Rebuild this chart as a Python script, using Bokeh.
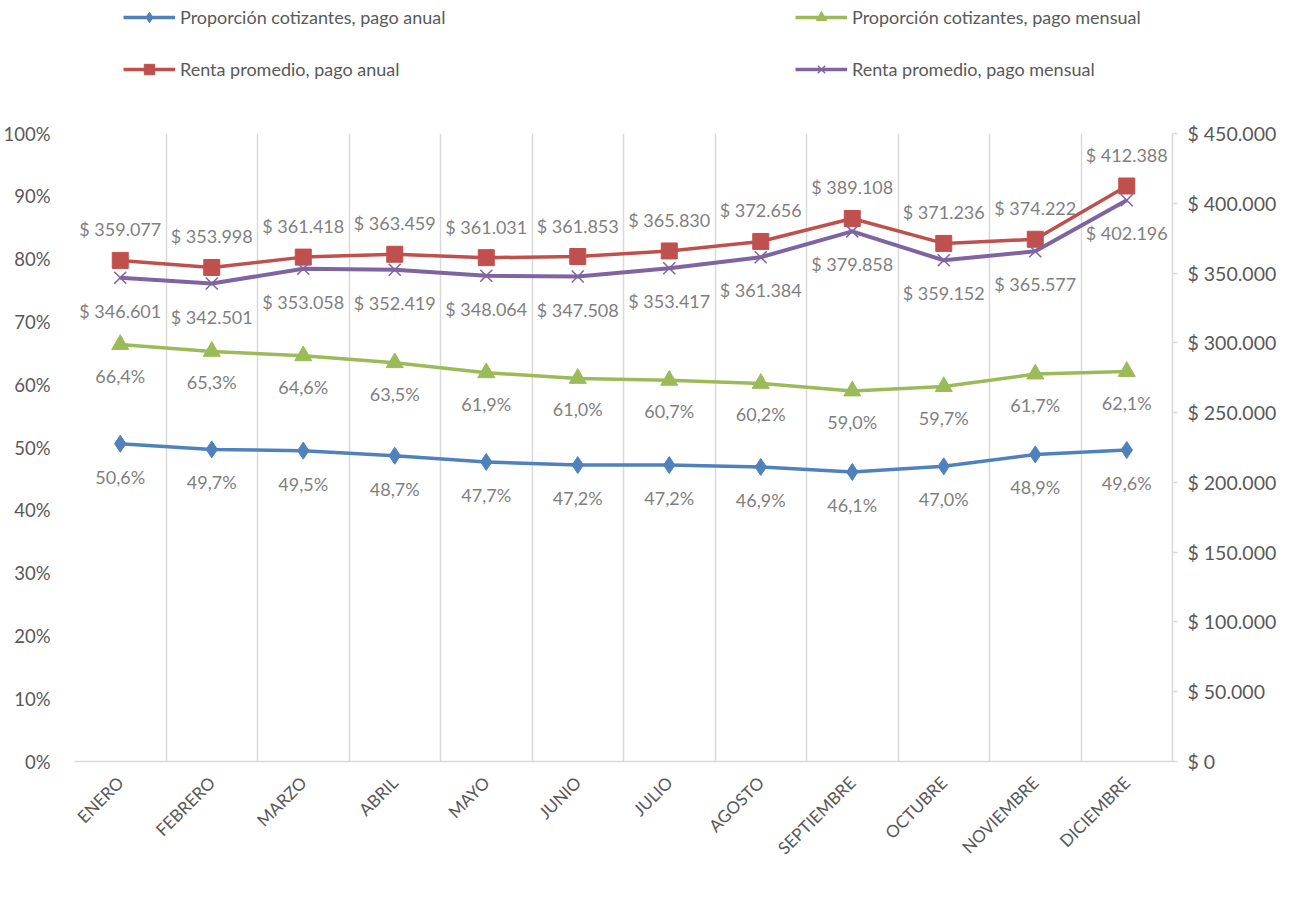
import math
from bokeh.plotting import figure
from bokeh.layouts import column
from bokeh.models import (Range1d, LinearAxis, FixedTicker, Legend, LegendItem,
                          PrintfTickFormatter)
from bokeh.core.properties import value
from bokeh.embed import file_html
from bokeh.resources import INLINE

months = ["ENERO", "FEBRERO", "MARZO", "ABRIL", "MAYO", "JUNIO", "JULIO",
          "AGOSTO", "SEPTIEMBRE", "OCTUBRE", "NOVIEMBRE", "DICIEMBRE"]
prop_anual = [50.6, 49.7, 49.5, 48.7, 47.7, 47.2, 47.2, 46.9, 46.1, 47.0, 48.9, 49.6]
prop_mensual = [66.4, 65.3, 64.6, 63.5, 61.9, 61.0, 60.7, 60.2, 59.0, 59.7, 61.7, 62.1]
renta_anual = [359077, 353998, 361418, 363459, 361031, 361853, 365830, 372656,
               389108, 371236, 374222, 412388]
renta_mensual = [346601, 342501, 353058, 352419, 348064, 347508, 353417, 361384,
                 379858, 359152, 365577, 402196]
pct_ticks = [0, 10, 20, 30, 40, 50, 60, 70, 80, 90, 100]
renta_ticks = [0, 50000, 100000, 150000, 200000, 250000, 300000, 350000, 400000, 450000]
renta_tick_labels = ["$ 0", "$ 50.000", "$ 100.000", "$ 150.000", "$ 200.000",
                     "$ 250.000", "$ 300.000", "$ 350.000", "$ 400.000", "$ 450.000"]
series_names = ["Proporción cotizantes, pago anual", "Proporción cotizantes, pago mensual",
                "Renta promedio, pago anual", "Renta promedio, pago mensual"]

FONT = "Lato"
GRAY = "#595959"
LABEL_GRAY = "#7F7F7F"
GRID = "#D9D9D9"
BLUE, RED, GREEN, PURPLE = "#4F81BD", "#C0504D", "#9BBB59", "#8064A2"

n = len(months)
xs = [i + 0.5 for i in range(n)]


def pct_label(v):
    return f"{v:.1f}".replace(".", ",") + "%"


def money_label(v):
    return "$ " + f"{v:,}".replace(",", ".")


# ---------------- main chart ----------------
p = figure(frame_width=1098, frame_height=628,
           x_range=Range1d(0, n), y_range=Range1d(0, 100),
           output_backend="svg", toolbar_location=None,
           min_border_left=73, min_border_right=106,
           min_border_top=38, min_border_bottom=120,
           outline_line_color=None, background_fill_color="white",
           border_fill_color="white")
p.extra_y_ranges = {"renta": Range1d(0, 450000)}

ya = p.yaxis[0]
ya.ticker = FixedTicker(ticks=pct_ticks)
ya.formatter = PrintfTickFormatter(format="%d%%")
ya.axis_line_color = None
ya.major_tick_line_color = None
ya.minor_tick_line_color = None
ya.major_label_text_font = FONT
ya.major_label_text_font_size = "18.5px"
ya.major_label_text_color = GRAY
ya.major_label_standoff = 18

ra = LinearAxis(y_range_name="renta", ticker=FixedTicker(ticks=renta_ticks),
                major_label_overrides=dict(zip(renta_ticks, renta_tick_labels)))
ra.axis_line_color = GRID
ra.axis_line_width = 1.5
ra.major_tick_line_color = GRID
ra.major_tick_line_width = 1.5
ra.major_tick_out = 5
ra.major_tick_in = 0
ra.minor_tick_line_color = None
ra.major_label_text_font = FONT
ra.major_label_text_font_size = "19.5px"
ra.major_label_text_color = GRAY
ra.major_label_standoff = 10
p.add_layout(ra, "right")

xa = p.xaxis[0]
xa.ticker = FixedTicker(ticks=xs)
xa.major_label_overrides = {x: m for x, m in zip(xs, months)}
xa.major_label_orientation = math.pi / 4
xa.axis_line_color = GRID
xa.axis_line_width = 1.5
xa.major_tick_line_color = None
xa.minor_tick_line_color = None
xa.major_label_text_font = FONT
xa.major_label_text_font_size = "17px"
xa.major_label_text_color = GRAY
xa.major_label_standoff = 12

p.xgrid.ticker = FixedTicker(ticks=list(range(n + 1)))
p.xgrid.grid_line_color = GRID
p.xgrid.grid_line_width = 1.5
p.ygrid.grid_line_color = None

styles = [
    dict(color=BLUE, marker="diamond", size=17, lw=3.5, mlw=1),
    dict(color=GREEN, marker="triangle", size=17, lw=3.5, mlw=1),
    dict(color=RED, marker="square", size=16, lw=3.5, mlw=1),
    dict(color=PURPLE, marker="x", size=17, lw=4, mlw=1.5),
]
series = [prop_anual, prop_mensual, renta_anual, renta_mensual]
ranges = ["default", "default", "renta", "renta"]

for vals, st, rn in zip(series, styles, ranges):
    p.line(xs, vals, line_color=st["color"], line_width=st["lw"], y_range_name=rn)
    p.scatter(xs, vals, marker=st["marker"], size=st["size"], fill_color=st["color"],
              line_color=st["color"], line_width=st["mlw"], y_range_name=rn)

lab_kw = dict(text_font=value(FONT), text_font_size="18px", text_color=LABEL_GRAY,
              text_align="center", text_baseline="middle")
p.text(xs, prop_anual, text=[pct_label(v) for v in prop_anual], y_offset=33, **lab_kw)
p.text(xs, prop_mensual, text=[pct_label(v) for v in prop_mensual], y_offset=31, **lab_kw)
p.text(xs, renta_anual, text=[money_label(v) for v in renta_anual], y_offset=-31,
       y_range_name="renta", **lab_kw)
p.text(xs, renta_mensual, text=[money_label(v) for v in renta_mensual], y_offset=33,
       y_range_name="renta", **lab_kw)

# ---------------- legend strip ----------------
# the legend's renderers reuse the series data, which lies outside this strip's range
lf = figure(frame_width=1277, frame_height=95, x_range=Range1d(0, 1), y_range=Range1d(-2, -1),
            output_backend="svg", toolbar_location=None,
            x_axis_location=None, y_axis_location=None,
            min_border_left=0, min_border_right=0, min_border_top=0, min_border_bottom=0,
            outline_line_color=None, border_fill_color="white")
lf.grid.grid_line_color = None

legend_marker_sizes = [13, 13, 12, 12]
items = []
for name, st, vals, ms in zip(series_names, styles, series, legend_marker_sizes):
    r1 = lf.line(xs, vals, line_color=st["color"], line_width=3.5)
    r2 = lf.scatter(xs, vals, marker=st["marker"], size=ms, fill_color=st["color"],
                    line_color=st["color"], line_width=st["mlw"])
    items.append(LegendItem(label=name, renderers=[r1, r2]))

legend = Legend(items=items,
                orientation="horizontal", ncols=2, location=(123, 13),
                glyph_width=52, glyph_height=26, label_height=26, spacing=26,
                label_width=589, label_standoff=5, padding=0, margin=0,
                border_line_color=None, background_fill_alpha=0,
                label_text_font=FONT, label_text_font_size="18px",
                label_text_color=GRAY)
lf.add_layout(legend)

layout = column(lf, p, spacing=0)
open("out.html", "w").write(file_html(layout, INLINE))
